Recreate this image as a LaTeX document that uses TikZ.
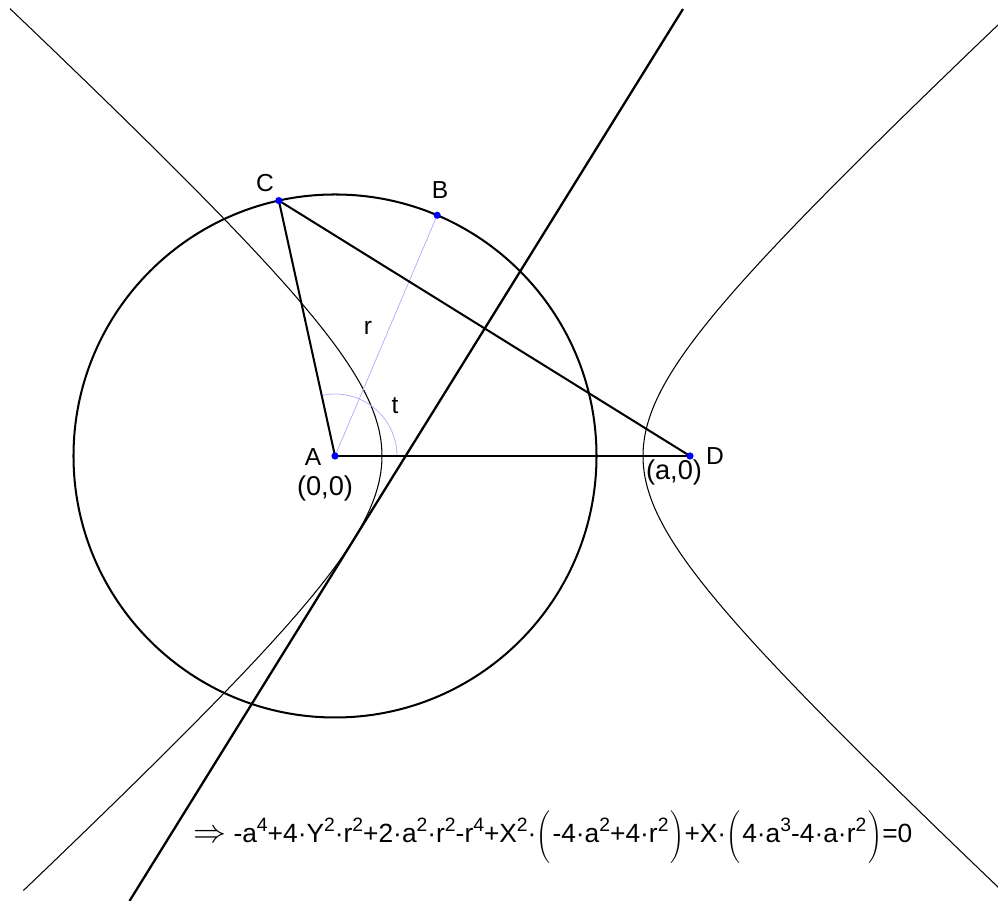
\documentclass[tikz,border=0pt]{standalone}
\usepackage{fontspec}
\setmainfont{Liberation Sans}
\newcommand\tallp[1]{\hbox{$\left#1\vcenter to 28pt{}\right.$}}
\newcommand\tallq[1]{\hbox{$\left.\vcenter to 28pt{}\right#1$}}
\newcommand\myexp[1]{\raisebox{0.42em}{\fontsize{11}{12}\selectfont #1}}
\begin{document}
\begin{tikzpicture}[x=0.02cm,y=0.02cm,
  thickline/.style={line width=1.15pt, black},
  thinline/.style={line width=0.6pt, black},
  radline/.style={line width=0.45pt, blue!30},
  ptdot/.style={fill=blue, draw=none},
  lbl/.style={inner sep=0pt, font=\fontsize{14}{16}\selectfont},
  coordlbl/.style={inner sep=0pt, font=\fontsize{15.5}{18}\selectfont}]
\useasboundingbox (0,0) rectangle (998,901);
\coordinate (A) at (335,445);
\coordinate (D) at (690,445);
\coordinate (B) at ([shift={(67:261.5)}]A);
\coordinate (C) at ([shift={(102.4:261.5)}]A);
\coordinate (P1) at (683,892);
\coordinate (P2) at (129.5,0);
% circle
\draw[thickline] (A) circle[radius=261.5];
% hyperbola
\draw[thinline] plot[domain=-1.996:2.025, samples=120, smooth, variable=\u] ({512.5-130.5*cosh(\u)}, {445+120.3*sinh(\u)});
\draw[thinline] plot[domain=-1.99:1.99, samples=120, smooth, variable=\u] ({512.5+130.5*cosh(\u)}, {445+120.3*sinh(\u)});
% radius and angle
\draw[radline] (A) -- (B);
\draw[radline] ([shift={(0:62)}]A) arc[start angle=0, end angle=102.4, radius=62];
% segments
\draw[thickline] (A) -- (C);
\draw[thickline] (C) -- (D);
\draw[thickline] (A) -- (D);
% perpendicular bisector
\draw[line width=1.3pt] (P1) -- (P2);
% points
\fill[ptdot] (A) circle[radius=3.6];
\fill[ptdot] (B) circle[radius=3.6];
\fill[ptdot] (C) circle[radius=3.6];
\fill[ptdot] (D) circle[radius=3.6];
% labels
\node[lbl] (lA) at (313,444) {A};
\node[lbl] (lB) at (440,711) {B};
\node[lbl] (lC) at (265,718) {C};
\node[lbl] (lD) at (715,445) {D};
\node[lbl] (lr) at (368,573) {r};
\node[lbl] (lt) at (395,495) {t};
\node[coordlbl] (l00) at (325,413) {(0,0)};
\node[coordlbl] (la0) at (674,429) {(a,0)};
\node[anchor=base west, inner sep=0pt, font=\fontsize{15}{18}\selectfont] (eq) at (193,58)
 {\scalebox{1.3}{$\Rightarrow$} -a\myexp{4}+4·Y\myexp{2}·r\myexp{2}+2·a\myexp{2}·r\myexp{2}-r\myexp{4}+X\myexp{2}·\tallp(-4·a\myexp{2}+4·r\myexp{2}\tallq)+X·\tallp(4·a\myexp{3}-4·a·r\myexp{2}\tallq)=0};
\end{tikzpicture}
\end{document}
